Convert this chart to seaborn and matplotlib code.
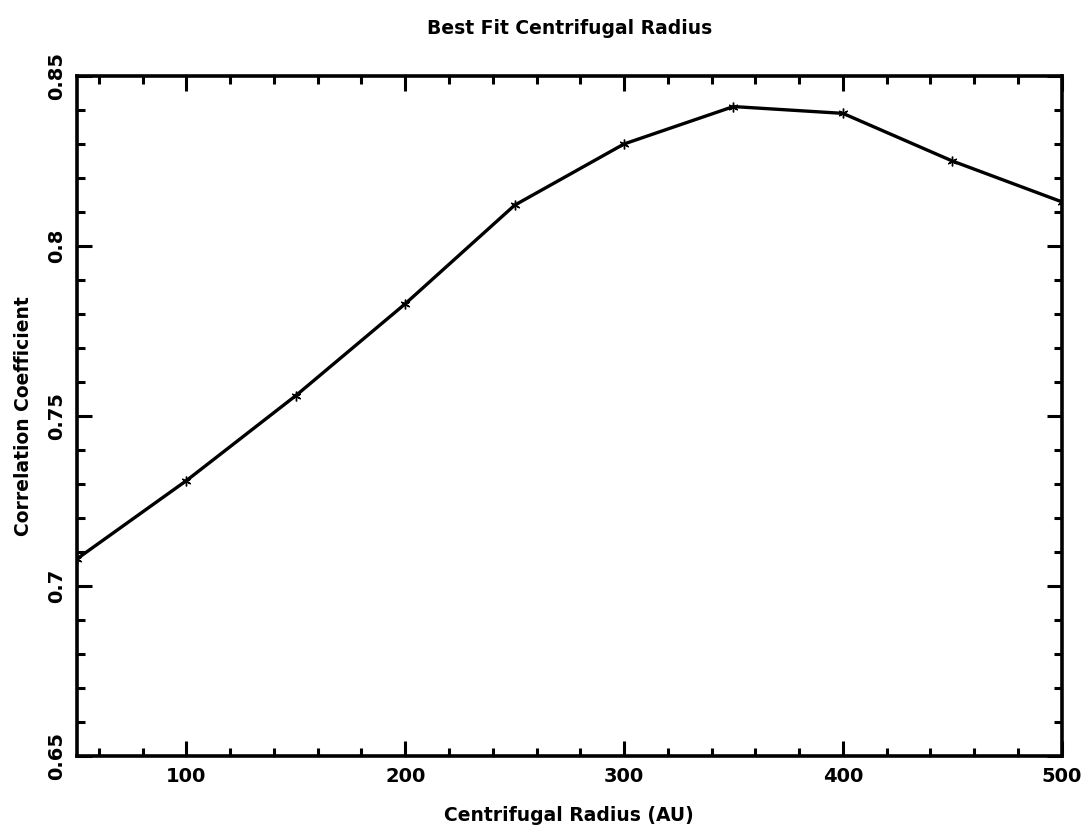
import matplotlib
matplotlib.use("Agg")
import matplotlib.pyplot as plt
from matplotlib.ticker import MultipleLocator, FixedLocator
import pandas as pd
import seaborn as sns

# Centrifugal radius trial values (AU) and resulting correlation coefficients
radius_au = [50, 100, 150, 200, 250, 300, 350, 400, 450, 500]
correlation = [0.708, 0.731, 0.756, 0.783, 0.812, 0.830, 0.841, 0.839, 0.825, 0.813]

x_ticks = [100, 200, 300, 400, 500]
y_ticks = [0.65, 0.7, 0.75, 0.8, 0.85]
y_tick_labels = ["0.65", "0.7", "0.75", "0.8", "0.85"]

df = pd.DataFrame({"radius": radius_au, "corr": correlation})

sns.set_style("ticks")
plt.rcParams["font.family"] = ["DejaVu Sans"]
plt.rcParams["font.weight"] = "bold"
plt.rcParams["text.color"] = "black"
plt.rcParams["axes.labelcolor"] = "black"
plt.rcParams["xtick.labelcolor"] = "black"
plt.rcParams["ytick.labelcolor"] = "black"

fig = plt.figure(figsize=(10.88, 8.32), dpi=100)
ax = fig.add_axes([0.0708, 0.0913, 0.905, 0.8174])

sns.lineplot(data=df, x="radius", y="corr", ax=ax, color="black",
             linewidth=2.4, marker=(6, 2, 0), markersize=7,
             markeredgecolor="black", markeredgewidth=1.0)

ax.set_xlim(50, 500)
ax.set_ylim(0.65, 0.85)

ax.xaxis.set_major_locator(FixedLocator(x_ticks))
ax.xaxis.set_minor_locator(MultipleLocator(20))
ax.yaxis.set_major_locator(FixedLocator(y_ticks))
ax.yaxis.set_minor_locator(MultipleLocator(0.01))
ax.set_yticklabels(y_tick_labels, rotation=90, va="center")
ax.set_xticklabels([str(v) for v in x_ticks])

for spine in ax.spines.values():
    spine.set_visible(True)
    spine.set_linewidth(2.6)
    spine.set_color("black")

ax.tick_params(which="both", direction="in", top=True, right=True,
               color="black", width=2.2, labelcolor="black")
ax.tick_params(which="major", length=11, labelsize=14, pad=8)
ax.tick_params(which="minor", length=6)
for lbl in ax.get_xticklabels() + ax.get_yticklabels():
    lbl.set_fontweight("bold")

ax.set_xlabel("Centrifugal Radius (AU)", fontsize=13.5, fontweight="bold",
              labelpad=14, color="black")
ax.set_ylabel("Correlation Coefficient", fontsize=13.5, fontweight="bold",
              labelpad=10, color="black")
ax.set_title("Best Fit Centrifugal Radius", fontsize=13.5, fontweight="bold",
             pad=30, color="black")

fig.savefig("out.png", dpi=100, facecolor="white")
